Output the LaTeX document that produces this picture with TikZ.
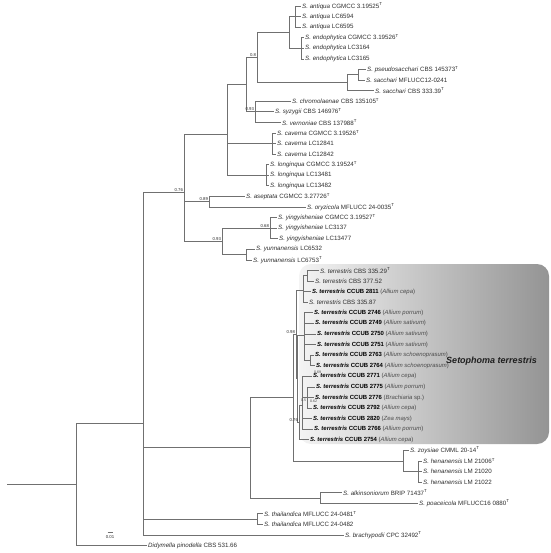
\documentclass[tikz,border=0pt]{standalone}
\usepackage{fontspec}
\setmainfont{Liberation Sans}
\usetikzlibrary{calc}
\definecolor{brc}{HTML}{707070}
\definecolor{txc}{HTML}{2E2E2E}
\definecolor{hostc}{HTML}{4A4A4A}
\definecolor{boxl}{HTML}{F4F4F4}
\definecolor{boxr}{HTML}{949494}
\newcommand\supT{\textsuperscript{T}}
\newcommand\Sp[1]{\textit{S. #1}}
\newcommand\Bt[2]{{\fontsize{5.95}{7}\selectfont\textcolor{black}{\textbf{\textit{S. terrestris} CCUB #1}} \textcolor{hostc}{(#2)}}}
\begin{document}
\begin{tikzpicture}[x=1pt,y=-1pt,
  br/.style={draw=brc,line width=0.75pt},
  tiplab/.style={anchor=west,inner xsep=1pt,inner ysep=0pt,text=txc,font=\fontsize{6.2}{7}\selectfont},
  pplab/.style={anchor=south east,inner sep=0.3pt,text=txc,font=\fontsize{4.3}{5}\selectfont},
  tinylab/.style={inner sep=0pt,text=hostc,font=\fontsize{3.6}{4}\selectfont},
  clade/.style={text=black!88,font=\fontsize{9}{11}\selectfont\bfseries\itshape}]
\useasboundingbox (0,0) rectangle (550,553);
% shaded clade box
\shade[left color=boxl,right color=boxr,rounded corners=12pt] (299,264) rectangle (549,444);
% internal nodes
\coordinate (r0) at (7,484.60);
\coordinate (root) at (76,484.60);
\coordinate (N0) at (143,423.62);
\coordinate (N1) at (184,192.55);
\coordinate (N2) at (227,134.50);
\coordinate (N3) at (246,84.69);
\coordinate (N4) at (257,57.58);
\coordinate (AE) at (289,32.45);
\coordinate (ant) at (295,16.58);
\coordinate (end) at (301,48.32);
\coordinate (sac) at (347,82.71);
\coordinate (ps) at (358,74.77);
\coordinate (N5) at (255,111.80);
\coordinate (cav) at (272,143.54);
\coordinate (lon) at (266,175.28);
\coordinate (as) at (209,201.73);
\coordinate (yy) at (222,241.41);
\coordinate (yin) at (270,228.18);
\coordinate (yun) at (246,254.63);
\coordinate (T) at (250,447.81);
\coordinate (TZ) at (293.5,397.65);
\coordinate (TC) at (296,334.36);
\coordinate (A) at (303,289.90);
\coordinate (A1) at (307,275.79);
\coordinate (R) at (297.5,378.82);
\coordinate (D) at (304,335.04);
\coordinate (D1) at (310,360.43);
\coordinate (G) at (299,422.59);
\coordinate (E) at (302.5,405.40);
\coordinate (E1) at (307.5,397.46);
\coordinate (ZH) at (403,460.94);
\coordinate (hen) at (418,471.52);
\coordinate (AP) at (320,497.97);
\coordinate (th) at (257,519.13);
% tips
\foreach \n/\x/\y/\t in {
 t1/301/6.00/{\Sp{antiqua} CGMCC 3.19525\supT},
 t2/301/16.58/{\Sp{antiqua} LC6594},
 t3/301/27.16/{\Sp{antiqua} LC6595},
 t4/304/37.74/{\Sp{endophytica} CGMCC 3.19526\supT},
 t5/304/48.32/{\Sp{endophytica} LC3164},
 t6/304/58.90/{\Sp{endophytica} LC3165},
 t7/366/69.48/{\Sp{pseudosacchari} CBS 145373\supT},
 t8/365/80.06/{\Sp{sacchari} MFLUCC12-0241},
 t9/374/90.64/{\Sp{sacchari} CBS 333.39\supT},
 t10/291/101.22/{\Sp{chromolaenae} CBS 135105\supT},
 t11/274/111.80/{\Sp{syzygii} CBS 146976\supT},
 t12/281/122.38/{\Sp{vernoniae} CBS 137988\supT},
 t13/276/132.96/{\Sp{caverna} CGMCC 3.19526\supT},
 t14/276/143.54/{\Sp{caverna} LC12841},
 t15/276/154.12/{\Sp{caverna} LC12842},
 t16/269/164.70/{\Sp{longinqua} CGMCC 3.19524\supT},
 t17/269/175.28/{\Sp{longinqua} LC13481},
 t18/269/185.86/{\Sp{longinqua} LC13482},
 t19/245/196.44/{\Sp{aseptata} CGMCC 3.27726\supT},
 t20/306/207.02/{\Sp{oryzicola} MFLUCC 24-0035\supT},
 t21/277/217.60/{\Sp{yingyisheniae} CGMCC 3.19527\supT},
 t22/277/228.18/{\Sp{yingyisheniae} LC3137},
 t23/278/238.76/{\Sp{yingyisheniae} LC13477},
 t24/255/249.34/{\Sp{yunnanensis} LC6532},
 t25/252/259.92/{\Sp{yunnanensis} LC6753\supT},
 t26/319/270.50/{\Sp{terrestris} CBS 335.29\supT},
 t27/314/281.08/{\Sp{terrestris} CBS 377.52},
 t28/311/291.66/{\Bt{2811}{\textit{Allium cepa}}},
 t29/308/302.24/{\Sp{terrestris} CBS 335.87},
 t30/313/312.82/{\Bt{2746}{\textit{Allium porrum}}},
 t31/314/323.40/{\Bt{2749}{\textit{Allium sativum}}},
 t32/316/333.98/{\Bt{2750}{\textit{Allium sativum}}},
 t33/316/344.56/{\Bt{2751}{\textit{Allium sativum}}},
 t34/314/355.14/{\Bt{2763}{\textit{Allium schoenoprasum}}},
 t35/315/365.72/{\Bt{2764}{\textit{Allium schoenoprasum}}},
 t36/312/376.30/{\Bt{2771}{\textit{Allium cepa}}},
 t37/315/386.88/{\Bt{2775}{\textit{Allium porrum}}},
 t38/314/397.46/{\Bt{2776}{\textit{Brachiaria} sp.}},
 t39/312/408.04/{\Bt{2792}{\textit{Allium cepa}}},
 t40/312/418.62/{\Bt{2820}{\textit{Zea mays}}},
 t41/313/429.20/{\Bt{2766}{\textit{Allium porrum}}},
 t42/309/439.78/{\Bt{2754}{\textit{Allium cepa}}},
 t43/409/450.36/{\Sp{zoysiae} CMML 20-14\supT},
 t44/422/460.94/{\Sp{henanensis} LM 21006\supT},
 t45/422/471.52/{\Sp{henanensis} LM 21020},
 t46/422/482.10/{\Sp{henanensis} LM 21022},
 t47/342/492.68/{\Sp{alkinsoniorum} BRIP 71437\supT},
 t48/418/503.26/{\Sp{poaceicola} MFLUCC16 0880\supT},
 t49/263/513.84/{\Sp{thailandica} MFLUCC 24-0481\supT},
 t50/263/524.42/{\Sp{thailandica} MFLUCC 24-0482},
 t51/344/535.00/{\Sp{brachypodii} CPC 32492\supT},
 t52/147/545.58/{\textit{Didymella pinodella} CBS 531.66}}
{\coordinate (\n) at (\x,\y); \node[tiplab] (\n l) at (\n) {\t};}
% branches
\draw[br] (r0) -- (root);
\foreach \p/\c in {root/N0,root/t52,
 N0/N1,N0/T,N0/th,N0/t51,
 N1/N2,N1/as,N1/yy,
 N2/N3,N2/cav,N2/lon,
 N3/N4,N3/N5,
 N4/AE,N4/sac,
 AE/ant,AE/end,
 ant/t1,ant/t2,ant/t3,end/t4,end/t5,end/t6,
 sac/ps,sac/t9,ps/t7,ps/t8,
 N5/t10,N5/t11,N5/t12,
 cav/t13,cav/t14,cav/t15,lon/t16,lon/t17,lon/t18,
 as/t19,as/t20,
 yy/yin,yy/yun,yin/t21,yin/t22,yin/t23,yun/t24,yun/t25,
 T/TZ,T/AP,TZ/TC,TZ/ZH,
 TC/A,TC/R,A/A1,A/t28,A/t29,A1/t26,A1/t27,
 R/D,R/G,D/t30,D/t31,D/t32,D/t33,D/D1,D1/t34,D1/t35,
 G/E,G/t42,E/t36,E/E1,E/t40,E/t41,E1/t37,E1/t38,E1/t39,
 ZH/t43,ZH/hen,hen/t44,hen/t45,hen/t46,
 AP/t47,AP/t48,th/t49,th/t50}
 {\draw[br] (\p) |- (\c);}
% posterior probabilities
\node[pplab] (p1) at ($(N4)+(-0.5,-0.6)$) {0.8};
\node[pplab] (p2) at ($(N5)+(-0.5,-0.6)$) {0.93};
\node[pplab] (p3) at ($(as)+(-0.5,-0.6)$) {0.89};
\node[pplab] (p4) at ($(yin)+(-0.5,-0.6)$) {0.68};
\node[pplab] (p5) at ($(yy)+(-0.5,-0.6)$) {0.93};
\node[pplab] (p6) at ($(N1)+(-0.5,-0.6)$) {0.76};
\node[pplab] (p7) at ($(TC)+(-0.5,-0.6)$) {0.98};
\node[pplab] (p8) at ($(G)+(-0.5,-0.6)$) {0.76};
\node[tinylab] (p9) at (317.5,372.5) {0.69};
\node[tinylab] (p10) at (303.5,400.5) {0.5};
\node[tinylab] (p11) at (313.5,400.8) {0.62};
% clade name
\node[clade] (cl) at (491.5,361) {Setophoma terrestris};
% scale bar
\coordinate (sb1) at (107.5,532);
\coordinate (sb2) at (112.5,532);
\draw[br] (sb1) -- (sb2);
\node[pplab,anchor=north] (sbl) at (110,534.5) {0.01};
\end{tikzpicture}
\end{document}
